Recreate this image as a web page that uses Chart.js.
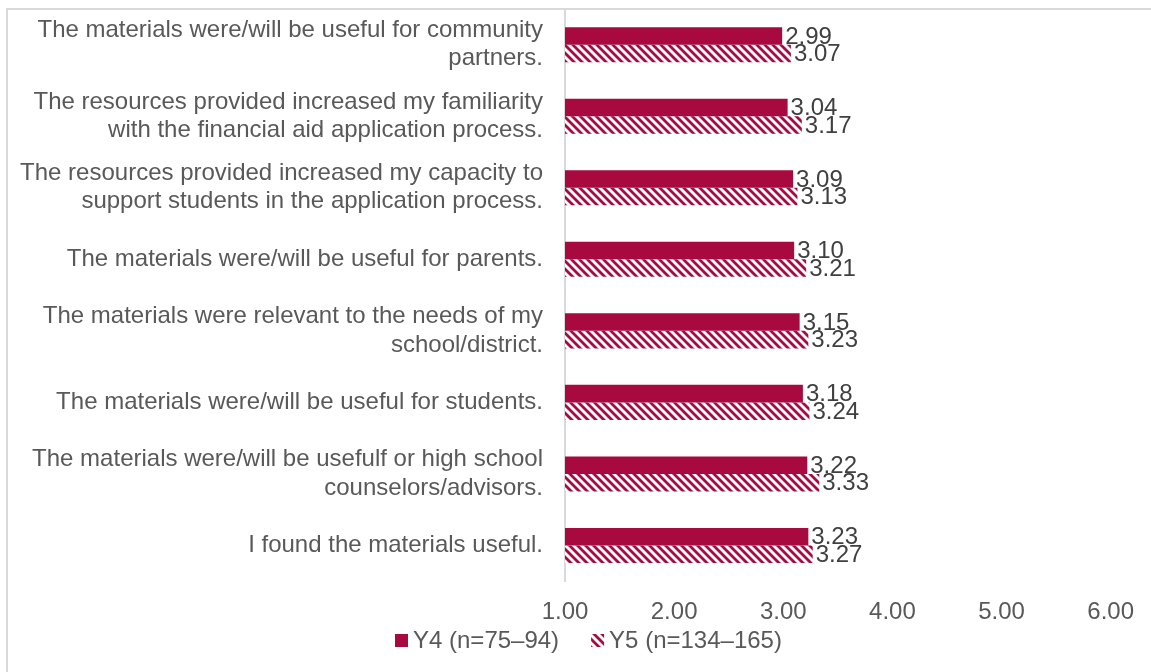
<!DOCTYPE html>
<html lang="en">
<head>
    <meta charset="UTF-8">
    <title>Materials usefulness ratings</title>
    <script src="https://cdn.jsdelivr.net/npm/chart.js"></script>
    <style>
        html, body { margin: 0; padding: 0; background: #fff; overflow: hidden; }
        #frame { position: absolute; left: 6px; top: 8px; width: 1200px; height: 700px;
                 border-left: 2px solid #d9d9d9; border-top: 2px solid #d9d9d9; }
        #wrap { position: absolute; left: 0; top: 0; width: 1151px; height: 672px; }
    </style>
</head>
<body>
    <div id="frame"></div>
    <div id="wrap"><canvas id="chart"></canvas></div>

    <script>
        // categories, top to bottom
        const categories = [
            ['The materials were/will be useful for community', 'partners.'],
            ['The resources provided increased my familiarity', 'with the financial aid application process.'],
            ['The resources provided increased my capacity to', 'support students in the application process.'],
            ['The materials were/will be useful for parents.'],
            ['The materials were relevant to the needs of my', 'school/district.'],
            ['The materials were/will be useful for students.'],
            ['The materials were/will be usefulf or high school', 'counselors/advisors.'],
            ['I found the materials useful.']
        ];
        const y4Values = [2.99, 3.04, 3.09, 3.10, 3.15, 3.18, 3.22, 3.23];
        const y5Values = [3.07, 3.17, 3.13, 3.21, 3.23, 3.24, 3.33, 3.27];
        const seriesNames = ['Y4 (n=75\u201394)', 'Y5 (n=134\u2013165)'];

        const red = '#a80a40';
        const textGray = '#595959';
        const fontFamily = '"Liberation Sans", Arial, sans-serif';

        // diagonal hatch for Y5
        function makeHatch() {
            const c = document.createElement('canvas');
            c.width = 8; c.height = 8;
            const g = c.getContext('2d');
            g.fillStyle = '#fff';
            g.fillRect(0, 0, 8, 8);
            g.strokeStyle = red;
            g.lineWidth = 2.8;
            g.beginPath();
            g.moveTo(-2, -2); g.lineTo(10, 10);
            g.moveTo(-6, 2); g.lineTo(2, 10);
            g.moveTo(6, -2); g.lineTo(10, 2);
            g.stroke();
            return g.createPattern(c, 'repeat');
        }
        const hatch = makeHatch();

        // value labels at the end of each bar
        const valueLabels = {
            id: 'valueLabels',
            afterDatasetsDraw(chart) {
                const ctx = chart.ctx;
                ctx.save();
                ctx.font = '24px ' + fontFamily;
                ctx.fillStyle = '#404040';
                ctx.textAlign = 'left';
                ctx.textBaseline = 'middle';
                chart.data.datasets.forEach((ds, i) => {
                    chart.getDatasetMeta(i).data.forEach((bar, j) => {
                        ctx.fillText(ds.data[j].toFixed(2), bar.x + 3, bar.y + 1);
                    });
                });
                ctx.restore();
            }
        };

        // compact legend under the axis (box right next to the text)
        const bottomLegend = {
            id: 'bottomLegend',
            afterDraw(chart) {
                const ctx = chart.ctx;
                ctx.save();
                ctx.font = '24px ' + fontFamily;
                ctx.textBaseline = 'middle';
                ctx.textAlign = 'left';
                let x = 395;
                const y = 641;
                chart.data.datasets.forEach(ds => {
                    ctx.fillStyle = ds.backgroundColor;
                    ctx.fillRect(x, y - 7, 13, 13);
                    ctx.fillStyle = textGray;
                    ctx.fillText(ds.label, x + 18, y);
                    x += 18 + ctx.measureText(ds.label).width + 32;
                });
                ctx.restore();
            }
        };

        Chart.defaults.font.family = fontFamily;
        Chart.defaults.color = textGray;

        new Chart(document.getElementById('chart'), {
            type: 'bar',
            data: {
                labels: categories,
                datasets: [
                    { label: seriesNames[0], data: y4Values, backgroundColor: red, base: 1 },
                    { label: seriesNames[1], data: y5Values, backgroundColor: hatch, base: 1 }
                ]
            },
            options: {
                indexAxis: 'y',
                responsive: true,
                maintainAspectRatio: false,
                animation: false,
                categoryPercentage: 0.49,
                barPercentage: 1,
                layout: { padding: { top: 9, right: 39, bottom: 28, left: 10 } },
                scales: {
                    x: {
                        min: 1,
                        max: 6,
                        grid: { display: false, drawTicks: false },
                        border: { display: false },
                        ticks: {
                            stepSize: 1,
                            padding: 17,
                            font: { size: 24 },
                            color: textGray,
                            callback: v => v.toFixed(2)
                        }
                    },
                    y: {
                        grid: { display: false },
                        border: { display: true, color: '#d9d9d9', width: 2 },
                        ticks: {
                            padding: 14,
                            font: { size: 24, lineHeight: 1.17 },
                            color: textGray
                        },
                        afterFit(scale) {
                            scale.width = 555;
                            scale.paddingTop = 0;
                            scale.paddingBottom = 0;
                        }
                    }
                },
                plugins: {
                    legend: { display: false },
                    tooltip: { enabled: false }
                }
            },
            plugins: [valueLabels, bottomLegend]
        });
    </script>
</body>
</html>
